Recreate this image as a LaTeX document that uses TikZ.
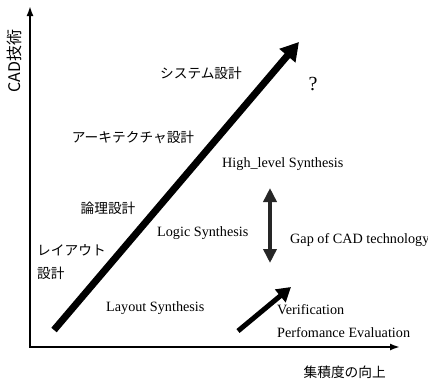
\documentclass[tikz,border=0pt]{standalone}
\usepackage{fontspec}
\setmainfont{Liberation Serif}
\newfontfamily\jp{Noto Sans CJK JP}
\usetikzlibrary{arrows.meta}
\begin{document}
\begin{tikzpicture}[x=1pt,y=-1pt,
  jtext/.style={font=\jp\fontsize{13.7}{15}\selectfont, inner sep=0pt},
  etext/.style={font=\fontsize{14.2}{16}\selectfont, inner sep=0pt},
  axis/.style={line width=1.8pt,-{Latex[length=10pt,width=7pt]}},
  bigarrow/.style={line width=7pt,-{Triangle[length=18pt,width=20pt]}},
  smallarrow/.style={line width=5pt,-{Triangle[length=14pt,width=16pt]}},
  gaparrow/.style={line width=4pt,draw=black!85,{Triangle[length=14pt,width=13pt]}-{Triangle[length=14pt,width=13pt]}}]
\useasboundingbox (0,0) rectangle (428,383);
% axes
\coordinate (O) at (30,347);
\coordinate (Ytop) at (30,6);
\coordinate (Xend) at (400,347);
\draw[axis] (O) -- (Ytop);
\draw[axis] ([xshift=-1pt]O) -- (Xend);
\node[jtext, rotate=90, font=\jp\fontsize{16}{18}\selectfont] (ylab) at (14,61) {CAD技術};
\node[jtext, anchor=east] (xlab) at (386,372) {集積度の向上};
% big arrow
\coordinate (b0) at (54,330);
\coordinate (b1) at (299,42);
\draw[bigarrow] (b0) -- (b1);
% labels left
\node[jtext] (sys) at (201,73) {システム設計};
\node[jtext] (arch) at (133,137) {アーキテクチャ設計};
\node[jtext] (logic) at (108,208) {論理設計};
\node[jtext, anchor=west] (lay1) at (37,250) {レイアウト};
\node[jtext, anchor=west] (lay2) at (37,273) {設計};
\node[font=\fontsize{20}{22}\selectfont, inner sep=0pt] (q) at (313,84) {?};
% labels right
\node[etext, anchor=west] (hls) at (222,164) {High\_level Synthesis};
\node[etext, anchor=west] (ls) at (157,233) {Logic Synthesis};
\node[etext, anchor=west] (lys) at (106,308) {Layout Synthesis};
\node[etext, anchor=west] (gap) at (290,240) {Gap of CAD technology};
\node[etext, anchor=west] (ver) at (277,310) {Verification};
\node[etext, anchor=west] (perf) at (277,333) {Perfomance Evaluation};
% gap arrow
\coordinate (g0) at (270,188);
\coordinate (g1) at (270,263);
\draw[gaparrow] (g0) -- (g1);
% small arrow
\coordinate (s0) at (238,331);
\coordinate (s1) at (291,287);
\draw[smallarrow] (s0) -- (s1);
\end{tikzpicture}
\end{document}
